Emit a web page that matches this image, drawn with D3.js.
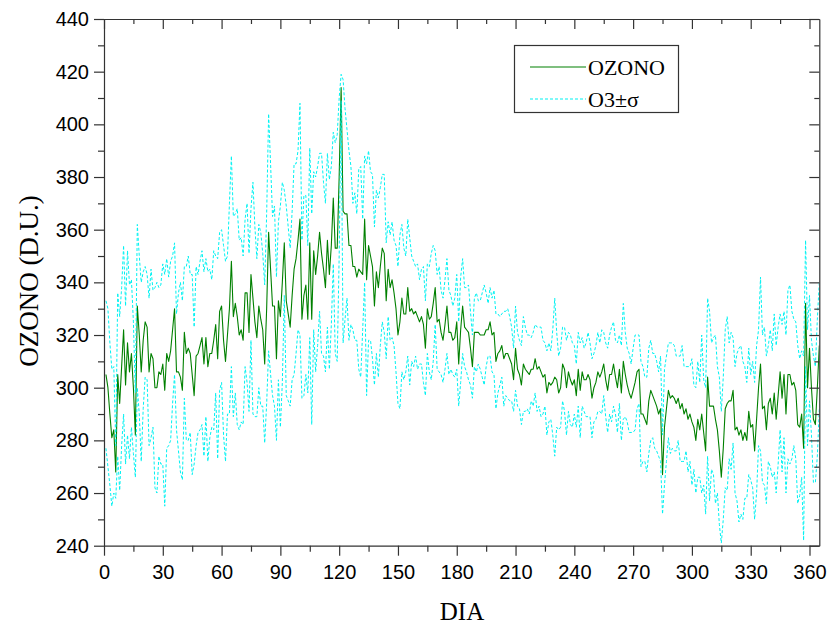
<!DOCTYPE html>
<html>
<head>
<meta charset="utf-8">
<script src="https://cdn.jsdelivr.net/npm/d3@7/dist/d3.min.js"></script>
<style>
  html, body { margin: 0; padding: 0; background: #fff; }
  svg { display: block; }
</style>
</head>
<body>
<svg id="chart" width="828" height="626"></svg>
<script>
// Day of year, daily total ozone (D.U.) and its standard deviation
const days = d3.range(1, 366);

const ozone = [
  305,300,290,281,284,268,305,294,308,322,
  301,317,306,313,300,282,331,320,306,318,
  325,323,306,313,311,300,300,306,305,309,
  299,313,310,314,322,330,306,306,304,299,
  321,313,315,313,305,297,312,313,316,319,
  309,319,308,313,313,318,324,311,329,331,
  318,310,320,330,348,327,332,327,320,322,
  318,336,336,321,343,334,325,319,331,326,
  322,309,330,359,345,331,331,311,333,327,
  340,355,333,328,323,335,345,349,356,364,
  326,335,339,326,355,326,352,343,350,359,
  351,345,338,356,343,354,372,353,353,380,
  414,367,366,366,354,354,346,346,342,345,
  344,343,364,341,354,350,346,331,344,338,
  346,353,351,333,345,338,341,336,330,320,
  325,334,328,328,338,329,330,328,329,327,
  325,327,324,315,330,326,327,332,338,325,
  326,321,318,324,331,321,321,318,319,325,
  309,322,331,323,322,321,315,308,321,321,
  321,320,320,320,322,322,325,320,321,310,
  313,314,316,311,313,313,311,309,303,315,
  307,305,301,309,307,306,305,307,307,311,
  307,308,306,304,305,298,302,301,302,304,
  303,298,300,309,307,300,306,303,301,303,
  297,307,299,306,303,303,305,303,296,300,
  302,306,304,306,309,303,299,305,305,309,
  304,300,307,298,310,305,301,298,296,299,
  302,306,307,290,290,288,286,295,299,297,
  295,293,290,292,267,285,292,299,296,297,
  296,294,296,292,294,290,292,288,290,287,
  285,280,288,284,290,283,276,304,293,293,
  293,288,284,276,266,277,292,294,295,295,
  299,284,285,282,284,280,283,280,291,285,
  286,276,288,300,309,292,293,284,294,296,
  290,298,288,297,306,296,305,290,305,305,
  301,302,299,286,285,290,277,332,300,315,
  300,288,286,300,316
];

const sigma = [
  28,30,27,26,24,10,31,33,30,32,
  30,35,33,28,25,16,31,30,34,26,
  21,20,28,32,26,38,40,32,34,38,
  44,36,32,34,28,25,22,30,36,34,
  25,33,35,30,38,26,34,30,32,33,
  35,30,36,32,28,34,26,38,30,29,
  36,38,30,40,40,38,34,41,36,35,
  32,28,34,30,25,44,36,30,31,33,
  29,30,36,45,40,34,38,31,30,42,
  38,20,36,33,30,32,40,36,34,44,
  30,38,34,28,36,40,30,37,34,30,
  38,33,32,33,36,30,25,40,43,30,
  5,50,40,32,36,30,24,28,24,38,
  40,21,24,44,36,32,35,30,31,34,
  30,28,30,22,18,20,22,20,24,26,
  33,28,25,22,26,28,20,20,17,20,
  16,18,22,18,17,20,24,22,14,18,
  20,16,16,17,18,16,14,13,15,18,
  16,20,18,15,16,18,14,12,13,15,
  12,13,16,19,14,10,13,14,16,18,
  15,13,12,18,16,17,16,14,12,16,
  14,13,15,18,16,14,15,12,14,13,
  16,15,17,14,12,16,15,13,20,30,
  18,14,15,14,16,18,15,17,16,13,
  12,14,18,13,12,14,16,14,15,13,
  14,15,13,16,12,14,16,15,18,16,
  14,17,13,18,22,16,14,15,13,16,
  18,14,13,20,18,16,18,20,19,16,
  18,17,16,20,15,22,20,18,21,20,
  20,18,16,20,22,18,16,20,18,24,
  16,20,22,18,30,20,24,30,36,24,
  26,32,24,28,25,27,30,33,22,26,
  20,24,28,33,32,30,25,22,24,20,
  24,26,28,22,33,28,30,28,22,26,
  24,30,28,26,22,28,24,30,32,34,
  28,24,26,30,26,24,35,24,22,20,
  18,24,22,26,24
];

const xTicks = [0, 30, 60, 90, 120, 150, 180, 210, 240, 270, 300, 330, 360];
const xMinorTicks = d3.range(15, 365, 30);
const yTicks = [240, 260, 280, 300, 320, 340, 360, 380, 400, 420, 440];
const yMinorTicks = d3.range(250, 440, 20);

const seriesNames = ["OZONO", "O3\u00B1\u03C3"];
const axisTitles = { x: "DIA", y: "OZONO (D.U.)" };

// Plot frame
const frame = { left: 104, right: 819.3, top: 19, bottom: 545.7 };

const svg = d3.select("#chart");

const x = d3.scaleLinear().domain([0, 365]).range([frame.left, frame.right]);
const y = d3.scaleLinear().domain([240, 440]).range([frame.bottom, frame.top]);

const green = "#008000";
const cyan = "#00f2f2";

// Series rows
const rows = days.map((d, i) => ({
  day: d,
  o3: ozone[i],
  hi: ozone[i] + sigma[i],
  lo: ozone[i] - sigma[i]
}));

svg.append("defs").append("clipPath").attr("id", "plotclip")
  .append("rect").attr("x", frame.left).attr("y", frame.top)
  .attr("width", frame.right - frame.left).attr("height", frame.bottom - frame.top);

const plot = svg.append("g").attr("clip-path", "url(#plotclip)");
const lineOf = key => d3.line().x(d => x(d.day)).y(d => y(d[key]));

plot.append("path").datum(rows)
  .attr("fill", "none").attr("stroke", green).attr("stroke-width", 1.1)
  .attr("stroke-linejoin", "round")
  .attr("d", lineOf("o3"));

["hi", "lo"].forEach(k => {
  plot.append("path").datum(rows)
    .attr("fill", "none").attr("stroke", cyan).attr("stroke-width", 1)
    .attr("stroke-dasharray", "3,2")
    .attr("d", lineOf(k));
});

// Axes
const tickFont = "'Liberation Sans', Arial, sans-serif";
const titleFont = "'Liberation Serif', 'Times New Roman', serif";
const axisColor = "#333";

function styleLines(g) {
  g.selectAll("line").attr("stroke", axisColor).attr("stroke-width", 1.2);
}
function styleAxis(g) {
  g.select(".domain").attr("stroke", axisColor).attr("stroke-width", 1.2);
  styleLines(g);
  g.selectAll(".tick text").attr("fill", "#000")
    .style("font-family", tickFont).style("font-size", "20px");
}
function minor(g) { g.select(".domain").remove(); styleLines(g); }

// Bottom axis (ticks outward)
svg.append("g").attr("transform", `translate(0,${frame.bottom})`)
  .call(d3.axisBottom(x).tickValues(xTicks).tickSize(10).tickPadding(9).tickSizeOuter(0))
  .call(styleAxis);
svg.append("g").attr("transform", `translate(0,${frame.bottom})`)
  .call(d3.axisBottom(x).tickValues(xMinorTicks).tickSize(6).tickFormat("").tickSizeOuter(0))
  .call(minor);

// Left axis (ticks outward)
svg.append("g").attr("transform", `translate(${frame.left},0)`)
  .call(d3.axisLeft(y).tickValues(yTicks).tickSize(10).tickPadding(5).tickSizeOuter(0))
  .call(styleAxis);
svg.append("g").attr("transform", `translate(${frame.left},0)`)
  .call(d3.axisLeft(y).tickValues(yMinorTicks).tickSize(6).tickFormat("").tickSizeOuter(0))
  .call(minor);

// Top axis (ticks inward)
svg.append("g").attr("transform", `translate(0,${frame.top})`)
  .call(d3.axisBottom(x).tickValues(xTicks).tickSize(10).tickFormat("").tickSizeOuter(0))
  .call(styleAxis);
svg.append("g").attr("transform", `translate(0,${frame.top})`)
  .call(d3.axisBottom(x).tickValues(xMinorTicks).tickSize(5).tickFormat("").tickSizeOuter(0))
  .call(minor);

// Right axis (ticks inward)
svg.append("g").attr("transform", `translate(${frame.right},0)`)
  .call(d3.axisLeft(y).tickValues(yTicks).tickSize(10).tickFormat("").tickSizeOuter(0))
  .call(styleAxis);
svg.append("g").attr("transform", `translate(${frame.right},0)`)
  .call(d3.axisLeft(y).tickValues(yMinorTicks).tickSize(5).tickFormat("").tickSizeOuter(0))
  .call(minor);

// Axis titles
svg.append("text")
  .attr("x", 462).attr("y", 620)
  .attr("text-anchor", "middle")
  .style("font-family", titleFont).style("font-size", "25px")
  .text(axisTitles.x);

svg.append("text")
  .attr("transform", `translate(38,281) rotate(-90)`)
  .attr("text-anchor", "middle")
  .style("font-family", titleFont).style("font-size", "27px")
  .text(axisTitles.y);

// Legend
const legend = svg.append("g");
legend.append("rect")
  .attr("x", 514.5).attr("y", 45.5).attr("width", 164).attr("height", 67)
  .attr("fill", "#fff").attr("stroke", axisColor).attr("stroke-width", 1.2);

const legendRows = [
  { name: seriesNames[0], color: green, dash: null, yPos: 67 },
  { name: seriesNames[1], color: cyan, dash: "3,2", yPos: 99 }
];
legendRows.forEach(r => {
  legend.append("line")
    .attr("x1", 530).attr("x2", 586).attr("y1", r.yPos).attr("y2", r.yPos)
    .attr("stroke", r.color).attr("stroke-width", 1.1)
    .attr("stroke-dasharray", r.dash);
  legend.append("text")
    .attr("x", 588).attr("y", r.yPos + 7.5)
    .style("font-family", titleFont).style("font-size", "22px")
    .text(r.name);
});
</script>
</body>
</html>
